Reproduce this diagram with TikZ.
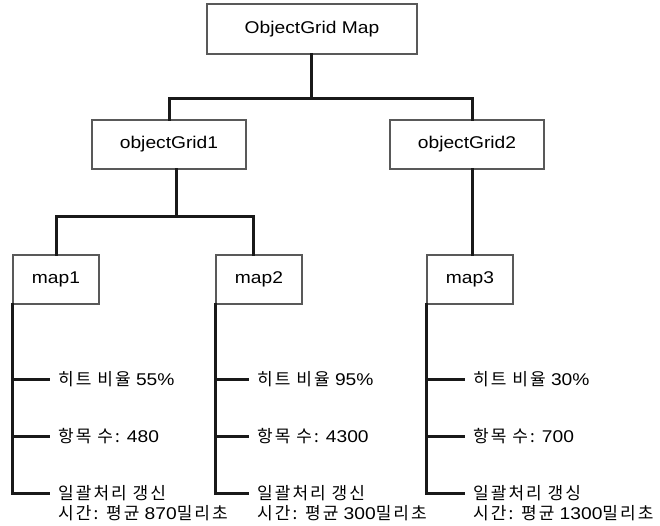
\documentclass[tikz,border=0pt]{standalone}
\usepackage{fontspec}
\setmainfont[FakeStretch=1.13]{Liberation Sans}
\newfontfamily\kr[LetterSpace=12]{Noto Sans CJK KR}
\usetikzlibrary{calc}

\tikzset{
  box/.style={draw=black!65, line width=1.2pt, fill=white, inner sep=0pt,
              font=\fontsize{17}{20}\selectfont},
  conn/.style={draw=black!90, line width=3pt, line cap=rect},
  item/.style={anchor=west, inner sep=0pt, font=\fontsize{17}{20}\selectfont},
}

\begin{document}
\begin{tikzpicture}[x=1pt, y=-1pt]
\useasboundingbox (0,0) rectangle (660,525);

% tree of boxes
\node[box, minimum width=210pt, minimum height=50pt] (top) at (312,29) {ObjectGrid Map};
\node[box, minimum width=154pt, minimum height=49pt] (og1) at (169,144.5) {objectGrid1};
\node[box, minimum width=154pt, minimum height=49pt] (og2) at (467,144.5) {objectGrid2};
\node[box, minimum width=86pt, minimum height=49pt] (map1) at (56,279.5) {map1};
\node[box, minimum width=86pt, minimum height=49pt] (map2) at (259,279.5) {map2};
\node[box, minimum width=86pt, minimum height=49pt] (map3) at (470,279.5) {map3};

% junction points of the connectors
\coordinate (jA) at (311,98);
\coordinate (jB) at (176,216);
\coordinate (s2) at (472,169);

% connectors between the boxes
\draw[conn] (top.south -| jA) -- (jA);
\draw[conn] (og1.north) |- (jA) -| (s2 |- og2.north);
\draw[conn] ($(og1.south)+(7,0)$) -- (jB);
\draw[conn] (map1.north) |- (jB) -| ($(map2.north)+(-6,0)$);
\draw[conn] (s2 |- og2.south) -- (s2 |- map3.north);

% map1 properties
\node[item] (p11) at (58,379) {{\kr 히트 비율} 55\%};
\node[item] (p12) at (58,436) {{\kr 항목 수:} 480};
\node[item] (p13) at (58,493) {\kr 일괄처리 갱신};
\node[item] (p13b) at (58,513) {{\kr 시간: 평균} 870{\kr 밀리초}};

% map2 properties
\node[item] (p21) at (257,379) {{\kr 히트 비율} 95\%};
\node[item] (p22) at (257,436) {{\kr 항목 수:} 4300};
\node[item] (p23) at (257,493) {\kr 일괄처리 갱신};
\node[item] (p23b) at (257,513) {{\kr 시간: 평균} 300{\kr 밀리초}};

% map3 properties
\node[item] (p31) at (473,379) {{\kr 히트 비율} 30\%};
\node[item] (p32) at (473,436) {{\kr 항목 수:} 700};
\node[item] (p33) at (473,493) {\kr 일괄처리 갱싱};
\node[item] (p33b) at (473,513) {{\kr 시간: 평균} 1300{\kr 밀리초}};

% property lines
\foreach \m/\p in {map1/p1, map2/p2, map3/p3}{
  \draw[conn] (\m.south west) |- ([xshift=-10pt]\p3.west);
  \draw[conn] (\m.south west |- \p1.west) -- ([xshift=-10pt]\p1.west);
  \draw[conn] (\m.south west |- \p2.west) -- ([xshift=-10pt]\p2.west);
}
\end{tikzpicture}
\end{document}
